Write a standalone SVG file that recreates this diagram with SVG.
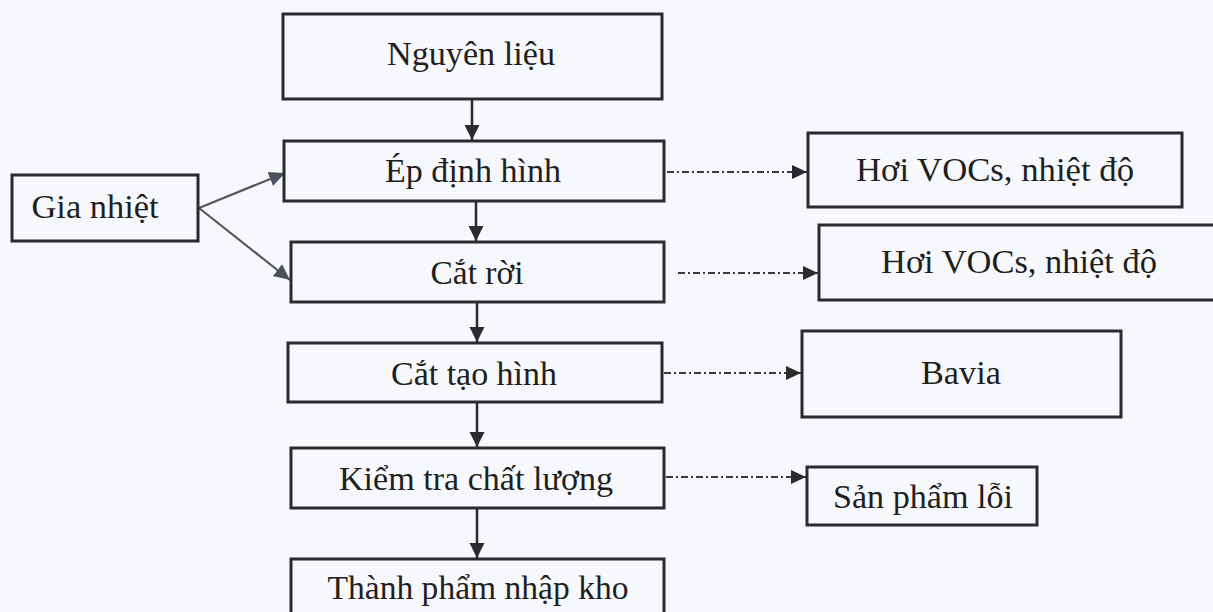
<svg xmlns="http://www.w3.org/2000/svg" width="1213" height="612" viewBox="0 0 1213 612">
  <style>
    .box { fill: #f7f8fb; stroke: #2b2b2e; stroke-width: 3; }
    .lbl { font-family: "Liberation Serif", "Times New Roman", serif; font-size: 34px; fill: #1f1f22; text-anchor: middle; }
    .solid { stroke: #2b2b2e; stroke-width: 2.5; fill: none; }
    .dash { stroke: #3a3a3e; stroke-width: 2; fill: none; stroke-dasharray: 7 3 2 3; }
    .grey { stroke: #55575e; stroke-width: 2.2; fill: none; }
  </style>
  <defs>
    <marker id="ahDown" markerUnits="userSpaceOnUse" markerWidth="16" markerHeight="16" viewBox="0 0 16 16" refX="15" refY="8" orient="auto">
      <path d="M0,0.5 L15,8 L0,15.5 Z" fill="#2b2b2e"/>
    </marker>
    <marker id="ahDash" markerUnits="userSpaceOnUse" markerWidth="16" markerHeight="16" viewBox="0 0 16 16" refX="15" refY="8" orient="auto">
      <path d="M0,1 L15,8 L0,15 Z" fill="#2b2b2e"/>
    </marker>
    <marker id="ahGrey" markerUnits="userSpaceOnUse" markerWidth="18" markerHeight="18" viewBox="0 0 18 18" refX="16" refY="9" orient="auto">
      <path d="M0,1.5 L16,9 L0,16.5 Z" fill="#4d5260"/>
    </marker>
  </defs>
  <rect x="0" y="0" width="1213" height="612" fill="#f7f8fb"/>

  <g id="connectors">
    <line class="solid" x1="472" y1="100" x2="472" y2="140" marker-end="url(#ahDown)"/>
    <line class="solid" x1="476" y1="202" x2="476" y2="241" marker-end="url(#ahDown)"/>
    <line class="solid" x1="477" y1="303" x2="477" y2="342" marker-end="url(#ahDown)"/>
    <line class="solid" x1="477" y1="403" x2="477" y2="447" marker-end="url(#ahDown)"/>
    <line class="solid" x1="477" y1="509" x2="477" y2="558" marker-end="url(#ahDown)"/>
    <line class="grey" x1="199" y1="208" x2="285" y2="173" marker-end="url(#ahGrey)"/>
    <line class="grey" x1="199" y1="208" x2="290" y2="280" marker-end="url(#ahGrey)"/>
    <line class="dash" x1="667" y1="172" x2="807" y2="172" marker-end="url(#ahDash)"/>
    <line class="dash" x1="678" y1="273" x2="818" y2="273" marker-end="url(#ahDash)"/>
    <line class="dash" x1="664" y1="373" x2="801" y2="373" marker-end="url(#ahDash)"/>
    <line class="dash" x1="666" y1="477" x2="806" y2="477" marker-end="url(#ahDash)"/>
  </g>

  <g id="nguyen-lieu">
    <rect class="box" x="283" y="14" width="379" height="85"/>
    <text class="lbl" x="471" y="65" textLength="168" lengthAdjust="spacingAndGlyphs">Nguyên liệu</text>
  </g>
  <g id="ep-dinh-hinh">
    <rect class="box" x="284" y="141" width="380" height="60"/>
    <text class="lbl" x="473" y="182" textLength="176" lengthAdjust="spacingAndGlyphs">Ép định hình</text>
  </g>
  <g id="gia-nhiet">
    <rect class="box" x="12" y="175" width="186" height="66"/>
    <text class="lbl" x="95" y="218" textLength="127" lengthAdjust="spacingAndGlyphs">Gia nhiệt</text>
  </g>
  <g id="cat-roi">
    <rect class="box" x="291" y="242" width="373" height="60"/>
    <text class="lbl" x="477" y="284" textLength="93" lengthAdjust="spacingAndGlyphs">Cắt rời</text>
  </g>
  <g id="cat-tao-hinh">
    <rect class="box" x="288" y="343" width="374" height="59"/>
    <text class="lbl" x="474" y="385" textLength="166" lengthAdjust="spacingAndGlyphs">Cắt tạo hình</text>
  </g>
  <g id="kiem-tra">
    <rect class="box" x="291" y="448" width="373" height="60"/>
    <text class="lbl" x="476" y="490" textLength="274" lengthAdjust="spacingAndGlyphs">Kiểm tra chất lượng</text>
  </g>
  <g id="thanh-pham">
    <rect class="box" x="291" y="559" width="373" height="62"/>
    <text class="lbl" x="478" y="599" textLength="301" lengthAdjust="spacingAndGlyphs">Thành phẩm nhập kho</text>
  </g>
  <g id="hoi-vocs-1">
    <rect class="box" x="808" y="133" width="374" height="74"/>
    <text class="lbl" x="995" y="181" textLength="278" lengthAdjust="spacingAndGlyphs">Hơi VOCs, nhiệt độ</text>
  </g>
  <g id="hoi-vocs-2">
    <rect class="box" x="819" y="225" width="402" height="75"/>
    <text class="lbl" x="1019" y="273" textLength="276" lengthAdjust="spacingAndGlyphs">Hơi VOCs, nhiệt độ</text>
  </g>
  <g id="bavia">
    <rect class="box" x="802" y="331" width="319" height="86"/>
    <text class="lbl" x="961" y="384" textLength="80" lengthAdjust="spacingAndGlyphs">Bavia</text>
  </g>
  <g id="san-pham-loi">
    <rect class="box" x="807" y="467" width="230" height="58"/>
    <text class="lbl" x="923" y="508" textLength="180" lengthAdjust="spacingAndGlyphs">Sản phẩm lỗi</text>
  </g>
</svg>
